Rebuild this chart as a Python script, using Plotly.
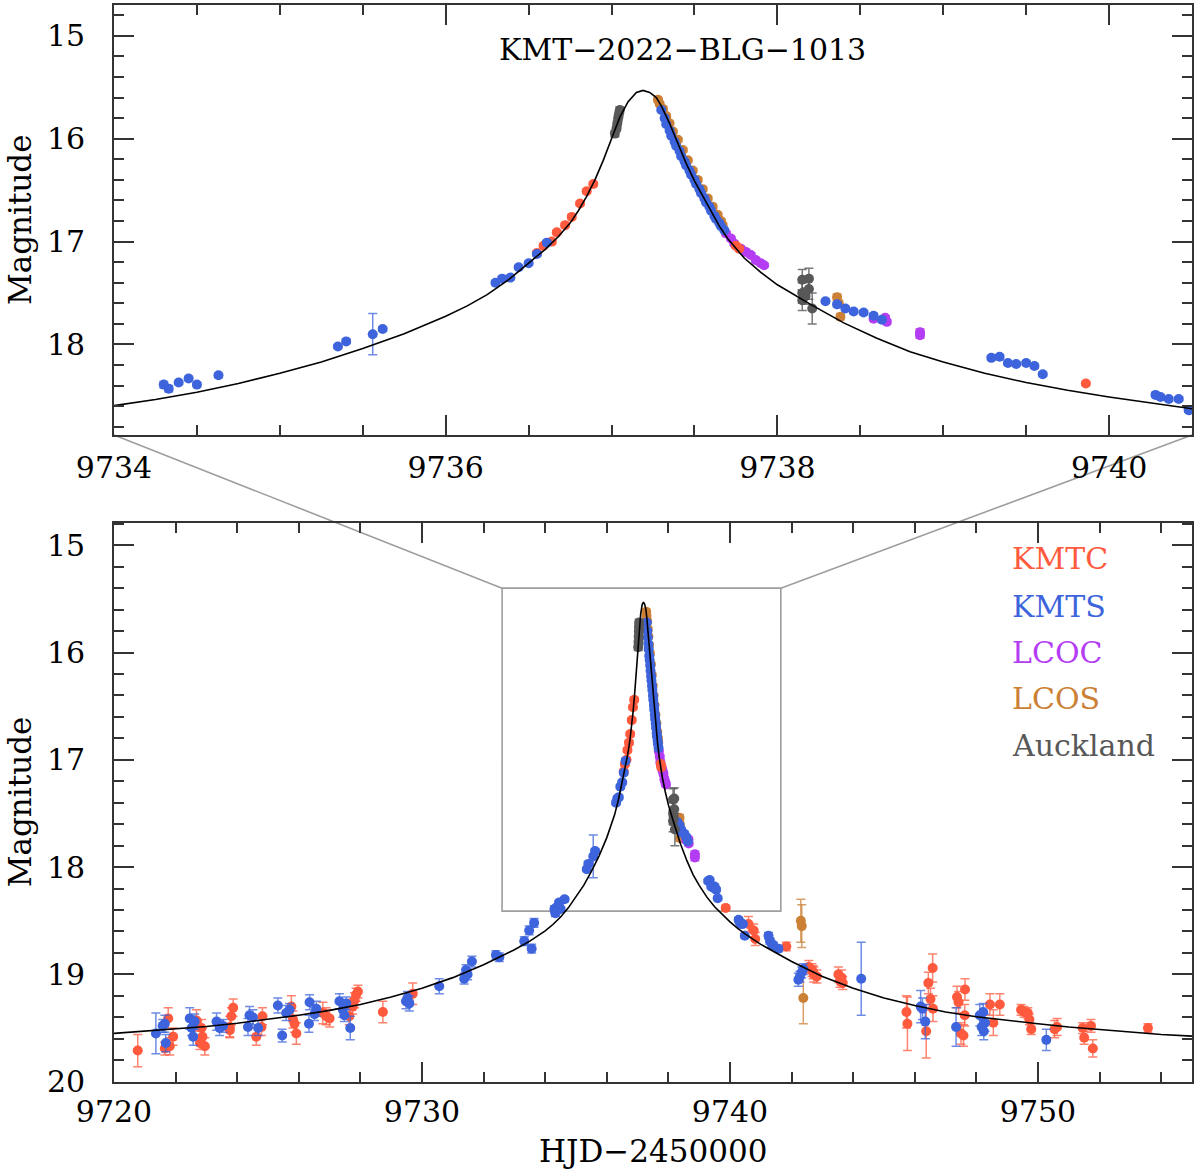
import plotly.graph_objects as go

# ---------------- data (HJD-2450000, magnitude, error) ----------------
kmtc_t = [9720.77, 9721.65, 9721.76, 9721.81, 9721.92, 9722.68, 9722.79, 9722.84, 9722.87, 9722.95,
          9723.76, 9723.76, 9723.81, 9723.87, 9724.62, 9724.79, 9724.82, 9725.76, 9725.81, 9725.86,
          9725.92, 9726.78, 9726.89, 9727.00, 9727.64, 9727.75, 9727.81, 9727.86, 9727.92, 9728.73,
          9729.70,
          9736.55, 9736.59, 9736.64, 9736.67, 9736.72, 9736.76, 9736.81, 9736.85, 9736.89,
          9737.75, 9737.77, 9739.86,
          9740.60, 9740.77, 9740.82, 9741.83, 9742.56, 9742.66, 9742.70, 9742.72, 9742.82, 9743.52,
          9743.57, 9743.62, 9743.66, 9745.73, 9745.76, 9746.37, 9746.44, 9746.51, 9746.58, 9746.59,
          9747.37, 9747.42, 9747.50, 9747.58, 9747.62, 9747.63, 9748.44, 9748.55, 9748.76, 9749.45,
          9749.55, 9749.67, 9749.72, 9749.78, 9750.54, 9750.62, 9751.45, 9751.50, 9751.72, 9751.78,
          9753.57]
kmtc_mag = [19.71, 19.69, 19.41, 19.67, 19.58, 19.43, 19.64, 19.50, 19.58, 19.67,
            19.49, 19.52, 19.39, 19.31, 19.58, 19.49, 19.39, 19.30, 19.42, 19.46,
            19.55, 19.36, 19.39, 19.41, 19.39, 19.30, 19.24, 19.19, 19.16, 19.35,
            19.18,
            17.11, 17.04, 17.00, 16.91, 16.84, 16.76, 16.63, 16.51, 16.44,
            17.04, 17.07, 18.38,
            18.53, 18.59, 18.67, 18.74, 18.93, 18.96, 18.98, 19.00, 19.02, 19.00,
            19.06, 19.03, 19.08, 19.35, 19.46, 19.53, 19.08, 19.23, 18.94, 19.32,
            19.21, 19.26, 19.55, 19.57, 19.38, 19.14, 19.28, 19.45, 19.28, 19.33,
            19.35, 19.36, 19.42, 19.51, 19.51, 19.49, 19.50, 19.59, 19.48, 19.69,
            19.50]
kmtc_err = [0.15, 0.06, 0.10, 0.08, 0.08, 0.10, 0.06, 0.08, 0.08, 0.08,
            0.10, 0.06, 0.08, 0.08, 0.08, 0.08, 0.08, 0.10, 0.08, 0.08,
            0.10, 0.10, 0.08, 0.08, 0.08, 0.07, 0.07, 0.06, 0.06, 0.10,
            0.10,
            0.02, 0.02, 0.02, 0.02, 0.02, 0.02, 0.02, 0.02, 0.02,
            0.02, 0.02, 0.02,
            0.07, 0.06, 0.06, 0.04, 0.06, 0.06, 0.06, 0.07, 0.06, 0.07,
            0.06, 0.07, 0.06, 0.15, 0.25, 0.25, 0.10, 0.10, 0.13, 0.12,
            0.10, 0.10, 0.10, 0.10, 0.10, 0.10, 0.10, 0.12, 0.10, 0.05,
            0.05, 0.05, 0.05, 0.05, 0.08, 0.08, 0.05, 0.06, 0.06, 0.08,
            0.04]

kmts_t = [9721.36, 9721.58, 9721.65, 9721.68, 9722.46, 9722.52, 9722.57, 9722.62, 9723.33, 9723.43,
          9723.54, 9724.35, 9724.40, 9724.51, 9724.68, 9725.32, 9725.46, 9725.59, 9725.70, 9726.33,
          9726.35, 9726.51, 9726.57, 9727.32, 9727.43, 9727.48, 9727.54, 9727.67, 9729.48, 9729.53,
          9729.59, 9730.56, 9731.37, 9731.43, 9731.48, 9731.62, 9732.40, 9732.51, 9733.32, 9733.48,
          9733.56, 9733.64,
          9734.30, 9734.33, 9734.39, 9734.45, 9734.50, 9734.63, 9735.35, 9735.40, 9735.56, 9735.62,
          9736.30, 9736.34, 9736.39, 9736.44, 9736.50, 9736.55, 9736.61,
          9737.30, 9737.32, 9737.33, 9737.35, 9737.36, 9737.38, 9737.39, 9737.41, 9737.42, 9737.44,
          9737.45, 9737.47, 9737.48, 9737.50, 9737.51, 9737.53, 9737.54, 9737.56, 9737.57, 9737.59,
          9737.60, 9737.62, 9737.63, 9737.65, 9737.66, 9737.68,
          9738.29, 9738.36, 9738.41, 9738.46, 9738.52, 9738.58, 9738.63,
          9739.29, 9739.34, 9739.39, 9739.44, 9739.50, 9739.55, 9739.60,
          9740.28, 9740.31, 9740.36, 9740.42, 9740.48,
          9741.25, 9741.30, 9741.36, 9741.41, 9741.57, 9742.22, 9742.27, 9742.33, 9742.38, 9744.26,
          9746.19, 9746.25, 9746.34, 9747.34, 9748.11, 9748.17, 9748.22, 9748.24, 9748.28, 9750.27]
kmts_mag = [19.55, 19.48, 19.46, 19.64, 19.41, 19.50, 19.58, 19.44, 19.44, 19.50,
            19.48, 19.49, 19.38, 19.40, 19.50, 19.29, 19.57, 19.36, 19.33, 19.46,
            19.26, 19.37, 19.32, 19.25, 19.33, 19.38, 19.27, 19.50, 19.25, 19.22,
            19.27, 19.11, 19.04, 18.96, 19.00, 18.88, 18.82, 18.84, 18.69, 18.59,
            18.76, 18.52,
            18.39, 18.43, 18.37, 18.33, 18.39, 18.30, 18.02, 17.97, 17.90, 17.85,
            17.40, 17.36, 17.35, 17.25, 17.21, 17.12, 17.01,
            15.72, 15.80, 15.86, 15.92, 15.97, 16.03, 16.07, 16.12, 16.17, 16.22,
            16.26, 16.31, 16.35, 16.40, 16.44, 16.49, 16.53, 16.58, 16.62, 16.66,
            16.70, 16.75, 16.78, 16.82, 16.85, 16.89,
            17.58, 17.61, 17.65, 17.68, 17.69, 17.72, 17.76,
            18.13, 18.12, 18.18, 18.19, 18.18, 18.21, 18.29,
            18.49, 18.51, 18.53, 18.53, 18.64,
            18.64, 18.69, 18.72, 18.73, 18.76, 19.05, 19.02, 18.98, 18.95, 19.04,
            19.30, 19.32, 19.44, 19.49, 19.38, 19.49, 19.35, 19.53, 19.45, 19.61]
kmts_err = [0.19, 0.06, 0.08, 0.08, 0.10, 0.07, 0.08, 0.07, 0.08, 0.07,
            0.06, 0.08, 0.08, 0.07, 0.07, 0.07, 0.06, 0.07, 0.06, 0.08,
            0.07, 0.06, 0.07, 0.07, 0.07, 0.06, 0.06, 0.11, 0.07, 0.06,
            0.07, 0.07, 0.05, 0.05, 0.05, 0.05, 0.04, 0.04, 0.04, 0.04,
            0.04, 0.04,
            0.03, 0.03, 0.02, 0.02, 0.02, 0.02, 0.02, 0.02, 0.20, 0.02,
            0.02, 0.02, 0.02, 0.02, 0.02, 0.02, 0.02,
            0.01, 0.01, 0.01, 0.01, 0.01, 0.01, 0.01, 0.01, 0.01, 0.01,
            0.01, 0.01, 0.01, 0.01, 0.01, 0.01, 0.01, 0.01, 0.01, 0.01,
            0.01, 0.01, 0.01, 0.01, 0.01, 0.01,
            0.02, 0.02, 0.02, 0.02, 0.02, 0.02, 0.02,
            0.02, 0.02, 0.02, 0.02, 0.02, 0.02, 0.02,
            0.02, 0.02, 0.02, 0.02, 0.02,
            0.03, 0.03, 0.03, 0.03, 0.03, 0.06, 0.05, 0.05, 0.05, 0.34,
            0.15, 0.10, 0.16, 0.18, 0.10, 0.08, 0.08, 0.08, 0.08, 0.10]

lcoc_t = [9737.69, 9737.72, 9737.74, 9737.78, 9737.81, 9737.84, 9737.87, 9737.90, 9737.92,
          9738.58, 9738.65, 9738.66, 9738.86, 9738.86]
lcoc_mag = [16.92, 16.97, 17.02, 17.07, 17.10, 17.13, 17.18, 17.21, 17.23,
            17.75, 17.74, 17.78, 17.88, 17.91]
lcoc_err = [0.02, 0.02, 0.02, 0.02, 0.02, 0.02, 0.02, 0.02, 0.02,
            0.02, 0.02, 0.02, 0.03, 0.03]

lcos_t = [9737.28, 9737.29, 9737.31, 9737.33, 9737.35, 9737.37, 9737.40, 9737.43, 9737.46, 9737.49,
          9737.52, 9737.55, 9737.58, 9737.61, 9737.64, 9737.66, 9737.67,
          9738.36, 9738.37, 9738.38, 9742.30, 9742.33, 9742.38]
lcos_mag = [15.62, 15.66, 15.71, 15.78, 15.85, 15.93, 16.01, 16.11, 16.21, 16.31,
            16.40, 16.49, 16.58, 16.66, 16.74, 16.80, 16.84,
            17.54, 17.60, 17.73, 18.50, 18.55, 19.22]
lcos_err = [0.02, 0.02, 0.02, 0.02, 0.02, 0.02, 0.02, 0.02, 0.02, 0.02,
            0.02, 0.02, 0.02, 0.02, 0.02, 0.02, 0.02,
            0.03, 0.03, 0.03, 0.20, 0.20, 0.24]

auck_t = [9737.02, 9737.03, 9737.035, 9737.04, 9737.045, 9737.05,
          9738.15, 9738.15, 9738.15, 9738.17, 9738.19, 9738.19, 9738.21]
auck_mag = [15.95, 15.90, 15.85, 15.80, 15.76, 15.72,
            17.37, 17.50, 17.57, 17.53, 17.36, 17.46, 17.65]
auck_err = [0.03, 0.03, 0.03, 0.03, 0.03, 0.03,
            0.10, 0.10, 0.10, 0.08, 0.10, 0.10, 0.15]

# model light curve
model_t = [9720.0, 9721.0, 9722.0, 9723.0, 9724.0, 9725.0, 9726.0, 9727.0, 9728.0, 9729.0,
           9730.0, 9731.0, 9732.0, 9732.5, 9733.0, 9733.5, 9734.0, 9734.25, 9734.5, 9734.75,
           9735.0, 9735.25, 9735.5, 9735.75, 9736.0, 9736.13, 9736.25, 9736.38, 9736.5, 9736.6,
           9736.68, 9736.75, 9736.8, 9736.85, 9736.9, 9736.95, 9737.0, 9737.05, 9737.1, 9737.15,
           9737.19, 9737.23, 9737.27, 9737.30, 9737.35, 9737.40, 9737.45, 9737.50, 9737.55, 9737.60,
           9737.65, 9737.70, 9737.80, 9737.90, 9738.0, 9738.2, 9738.4, 9738.6, 9738.8, 9739.0,
           9739.25, 9739.5, 9739.75, 9740.0, 9740.25, 9740.5, 9741.0, 9741.5, 9742.0, 9742.5,
           9743.0, 9744.0, 9745.0, 9746.0, 9747.0, 9748.0, 9749.0, 9750.0, 9751.0, 9752.0,
           9753.0, 9754.0, 9755.0]
model_mag = [19.55, 19.53, 19.51, 19.485, 19.455, 19.42, 19.38, 19.335, 19.28, 19.21,
             19.13, 19.03, 18.91, 18.84, 18.77, 18.69, 18.595, 18.535, 18.465, 18.38,
             18.28, 18.17, 18.04, 17.895, 17.725, 17.625, 17.515, 17.37, 17.21, 17.075,
             16.95, 16.82, 16.70, 16.56, 16.40, 16.21, 16.00, 15.79, 15.64, 15.55,
             15.53, 15.55, 15.60, 15.68, 15.85, 16.05, 16.24, 16.41, 16.56, 16.71,
             16.85, 16.97, 17.16, 17.30, 17.42, 17.61, 17.79, 17.94, 18.07, 18.17,
             18.28, 18.37, 18.445, 18.51, 18.57, 18.625, 18.72, 18.80, 18.88, 18.95,
             19.02, 19.13, 19.22, 19.29, 19.35, 19.395, 19.43, 19.46, 19.49, 19.515,
             19.54, 19.56, 19.575]

labels = ["KMTC", "KMTS", "LCOC", "LCOS", "Auckland"]
colors = ["#FF5A3D", "#3D64DC", "#B43CF2", "#CB8035", "#585858"]
err_colors = ["rgba(255,90,61,0.75)", "rgba(61,100,220,0.75)", "rgba(180,60,242,0.75)",
              "rgba(203,128,53,0.75)", "rgba(88,88,88,0.8)"]

series = [(kmtc_t, kmtc_mag, kmtc_err), (kmts_t, kmts_mag, kmts_err),
          (lcoc_t, lcoc_mag, lcoc_err), (lcos_t, lcos_mag, lcos_err),
          (auck_t, auck_mag, auck_err)]
draw_order = [3, 2, 0, 1, 4]  # LCOS, LCOC, KMTC, KMTS, Auckland

# zoom box shown in the lower panel
box_x = [9732.6, 9741.65]
box_y = [15.40, 18.41]

top_xrange = [9734.0, 9740.5]
top_yrange = [18.88, 14.70]
bot_xrange = [9720.0, 9755.0]
bot_yrange = [20.0, 14.79]

# ---------------- layout geometry ----------------
W, H = 1200, 1171
xd = [114 / W, 1192 / W]
yd_top = [1 - 435 / H, 1 - 5 / H]
yd_bot = [1 - 1081.7 / H, 1 - 522.7 / H]

FONT = "DejaVu Serif"
AXC = "#333333"

fig = go.Figure()

for i in draw_order:
    t, m, e = series[i]
    for xa, ya in (("x", "y"), ("x2", "y2")):
        fig.add_trace(go.Scatter(
            x=t, y=m, mode="markers", xaxis=xa, yaxis=ya, name=labels[i], showlegend=False,
            marker=dict(color=colors[i], size=10, line=dict(width=0)),
            error_y=dict(type="data", array=e, visible=True, color=err_colors[i], thickness=1.5, width=4.5),
        ))

for xa, ya in (("x", "y"), ("x2", "y2")):
    fig.add_trace(go.Scatter(x=model_t, y=model_mag, mode="lines", xaxis=xa, yaxis=ya,
                             line=dict(color="black", width=1.6),
                             showlegend=False))


def axis_common():
    return dict(showgrid=False, zeroline=False, showline=True, linecolor=AXC, linewidth=1.8,
                mirror="ticks", ticks="inside", ticklen=20, tickwidth=1.6, tickcolor=AXC,
                automargin=False,
                tickfont=dict(family=FONT, size=30, color="black"))


fig.update_layout(
    template="none",
    width=W, height=H, margin=dict(l=0, r=0, t=0, b=0, pad=0),
    paper_bgcolor="white", plot_bgcolor="rgba(0,0,0,0)",
    xaxis=dict(domain=xd, anchor="y", range=top_xrange, tick0=9734, dtick=2,
               minor=dict(dtick=0.5, ticklen=10, ticks="inside", tickwidth=1.6, tickcolor=AXC),
               ticklabelstandoff=5, **axis_common()),
    yaxis=dict(domain=yd_top, anchor="x", range=top_yrange, tick0=15, dtick=1,
               minor=dict(dtick=0.2, ticklen=10, ticks="inside", tickwidth=1.6, tickcolor=AXC),
               ticklabelstandoff=21, **axis_common()),
    xaxis2=dict(domain=xd, anchor="y2", range=bot_xrange, tick0=9720, dtick=10,
                minor=dict(dtick=2, ticklen=10, ticks="inside", tickwidth=1.6, tickcolor=AXC),
                ticklabelstandoff=2, **axis_common()),
    yaxis2=dict(domain=yd_bot, anchor="x2", range=bot_yrange, tick0=15, dtick=1,
                minor=dict(dtick=0.2, ticklen=10, ticks="inside", tickwidth=1.6, tickcolor=AXC),
                ticklabelstandoff=21, **axis_common()),
)


def to_paper_x(d, rng):
    return xd[0] + (d - rng[0]) / (rng[1] - rng[0]) * (xd[1] - xd[0])


def to_paper_y(mg, rng, dom):
    return dom[0] + (rng[0] - mg) / (rng[0] - rng[1]) * (dom[1] - dom[0])


GRAY = "#9E9E9E"
fig.add_shape(type="rect", xref="x2", yref="y2", x0=box_x[0], x1=box_x[1], y0=box_y[0], y1=box_y[1],
              line=dict(color=GRAY, width=1.6), layer="below")
# connectors from top panel bottom corners to the box top corners
for top_d, box_d in ((top_xrange[0], box_x[0]), (top_xrange[1], box_x[1])):
    fig.add_shape(type="line", xref="paper", yref="paper",
                  x0=to_paper_x(top_d, top_xrange), y0=yd_top[0],
                  x1=to_paper_x(box_d, bot_xrange), y1=to_paper_y(box_y[0], bot_yrange, yd_bot),
                  line=dict(color=GRAY, width=1.6), layer="below")

# texts
fig.add_annotation(x=682 / W, y=1 - 50 / H, xref="paper", yref="paper", text="KMT−2022−BLG−1013",
                   xanchor="center", yanchor="middle",
                   showarrow=False, font=dict(family=FONT, size=30, color="black"))
for dom in (yd_top, yd_bot):
    fig.add_annotation(x=20 / W, y=(dom[0] + dom[1]) / 2, xref="paper", yref="paper", text="Magnitude",
                       xanchor="center", yanchor="middle",
                       textangle=-90, showarrow=False, font=dict(family=FONT, size=31, color="black"))
fig.add_annotation(x=(xd[0] + xd[1]) / 2, y=1 - 1151 / H, xref="paper", yref="paper", text="HJD−2450000",
                   xanchor="center", yanchor="middle",
                   showarrow=False, font=dict(family=FONT, size=31, color="black"))

leg_y = [559, 606, 652, 698, 745]
for lab, c, yy in zip(labels, colors, leg_y):
    fig.add_annotation(x=1010 / W, y=1 - yy / H, xref="paper", yref="paper", text=lab,
                       xanchor="left", yanchor="middle",
                       showarrow=False, font=dict(family=FONT, size=30, color=c))

fig.write_html("out.html", config={"displayModeBar": False},
               post_script="document.body.style.margin='0px';")
